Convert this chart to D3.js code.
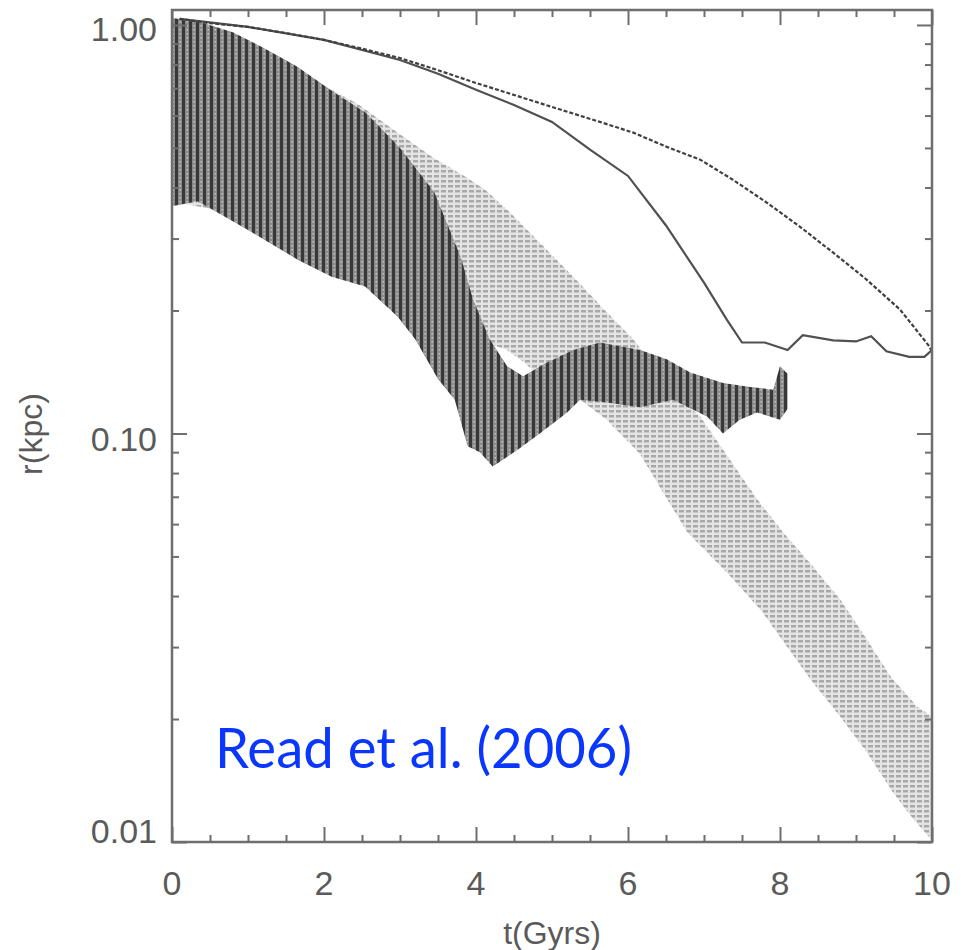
<!DOCTYPE html>
<html>
<head>
<meta charset="utf-8">
<script src="https://cdnjs.cloudflare.com/ajax/libs/d3/7.8.5/d3.min.js"></script>
<style>
body { margin: 0; background: #fff; }
svg { display: block; }
</style>
</head>
<body>
<svg id="chart" width="967" height="950"></svg>
<script>
// [t (Gyrs), r (kpc)]
var curveA = [[0.1,1.035],[0.5,1.01],[1,0.989],[1.5,0.955],[2,0.919],[2.5,0.875],[3,0.83],[3.5,0.775],[4,0.721],[4.5,0.674],[5,0.63],[5.63,0.579],[6.07,0.545],[6.51,0.503],[6.95,0.468],[7.38,0.418],[7.83,0.367],[8.26,0.321],[8.7,0.277],[9.14,0.238],[9.58,0.201],[9.97,0.163],[10,0.158]];
var curveB = [[0.1,1.035],[1,0.989],[2,0.919],[3,0.821],[3.5,0.76],[4,0.694],[4.5,0.637],[5,0.579],[5.5,0.495],[6,0.427],[6.5,0.323],[7,0.234],[7.3,0.19],[7.5,0.167],[7.8,0.167],[8.1,0.16],[8.3,0.174],[8.7,0.169],[9.0,0.168],[9.2,0.173],[9.4,0.159],[9.7,0.154],[9.9,0.154],[10,0.16]];

var darkUpper = [[0,1.04],[0.35,1.02],[0.8,0.96],[1.2,0.88],[1.65,0.79],[2.1,0.69],[2.55,0.61],[3.0,0.50],[3.45,0.39],[3.8,0.27],[3.96,0.213],[4.18,0.17],[4.41,0.146],[4.62,0.138],[4.93,0.149],[5.28,0.16],[5.63,0.167],[6.16,0.16],[6.51,0.152],[6.82,0.141],[7.25,0.133],[7.61,0.13],[7.91,0.128],[8.0,0.146],[8.1,0.14]];
var darkLower = [[0,0.36],[0.34,0.37],[1.0,0.315],[1.66,0.266],[2.1,0.242],[2.54,0.229],[2.97,0.193],[3.2,0.17],[3.5,0.136],[3.72,0.121],[3.89,0.093],[4.05,0.09],[4.22,0.083],[4.54,0.091],[4.84,0.10],[5.2,0.1125],[5.37,0.121],[5.72,0.119],[6.16,0.116],[6.59,0.121],[7.04,0.11],[7.25,0.10],[7.47,0.108],[7.7,0.1125],[8.0,0.108],[8.1,0.115]];

var lightUpper = [[0,1.03],[0.5,0.99],[1.0,0.92],[1.5,0.82],[2.0,0.71],[2.45,0.64],[2.97,0.545],[3.42,0.476],[3.86,0.425],[4.12,0.395],[4.41,0.353],[4.84,0.293],[5.28,0.242],[5.72,0.198],[6.07,0.17],[6.59,0.126],[6.95,0.11],[7.25,0.0914],[7.7,0.069],[8.04,0.0573],[8.43,0.0473],[8.79,0.0393],[9.14,0.0314],[9.45,0.0255],[9.8,0.0215],[10,0.0203]];
var lightLower = [[0,0.37],[1,0.34],[2,0.30],[3,0.23],[4,0.17],[4.41,0.16],[4.62,0.15],[4.9,0.135],[5.37,0.121],[5.72,0.108],[6.16,0.089],[6.38,0.076],[6.78,0.0573],[7.3,0.0457],[7.74,0.0371],[8.09,0.0301],[8.43,0.0246],[8.79,0.0203],[9.14,0.0166],[9.49,0.0132],[9.75,0.0114],[10,0.0101]];

var xTicks = [0,2,4,6,8,10];
var xMinor = [0.5,1,1.5,2.5,3,3.5,4.5,5,5.5,6.5,7,7.5,8.5,9,9.5];
var yTicks = [0.01,0.1,1];
var yTickLabels = ["0.01","0.10","1.00"];
var yMinor = [0.02,0.03,0.04,0.05,0.06,0.07,0.08,0.09,0.2,0.3,0.4,0.5,0.6,0.7,0.8,0.9];

var pL = 172, pR = 932, pT = 10, pB = 842;
var axisColor = "#6e6e6e";
var labelFont = "'Liberation Sans', Arial, sans-serif";

var svg = d3.select("#chart");

var x = d3.scaleLinear().domain([0,10]).range([pL,pR]);
var y = d3.scaleLog().domain([0.01,1.088]).range([pB,pT]);

var defs = svg.append("defs");

defs.append("clipPath").attr("id","plotClip")
	.append("rect")
	.attr("x",pL).attr("y",pT)
	.attr("width",pR-pL).attr("height",pB-pT);

var lightPat = defs.append("pattern")
	.attr("id","lightDots")
	.attr("patternUnits","userSpaceOnUse")
	.attr("width",7).attr("height",5);
lightPat.append("rect").attr("width",7).attr("height",5).attr("fill","#e4e4e4");
lightPat.append("rect").attr("x",0).attr("y",0).attr("width",5).attr("height",2.5).attr("fill","#a8a8a8");

var darkPat = defs.append("pattern")
	.attr("id","darkStripes")
	.attr("patternUnits","userSpaceOnUse")
	.attr("width",7).attr("height",4);
darkPat.append("rect").attr("width",7).attr("height",4).attr("fill","#8a8a8a");
darkPat.append("rect").attr("x",0).attr("width",3).attr("height",4).attr("fill","#383838");
darkPat.append("rect").attr("x",4.5).attr("y",1).attr("width",1.5).attr("height",1.5).attr("fill","#c4c4c4");

var line = d3.line()
	.x(function(d){ return x(d[0]); })
	.y(function(d){ return y(d[1]); });

function band(upper, lower){
	return line(upper.concat(lower.slice().reverse())) + "Z";
}

var plot = svg.append("g").attr("clip-path","url(#plotClip)");

plot.append("path")
	.attr("d", band(lightUpper, lightLower))
	.attr("fill","url(#lightDots)");

plot.append("path")
	.attr("d", band(darkUpper, darkLower))
	.attr("fill","url(#darkStripes)");

plot.append("path")
	.attr("d", line(curveB))
	.attr("fill","none")
	.attr("stroke","#505050")
	.attr("stroke-width",2.2);

plot.append("path")
	.attr("d", line(curveA))
	.attr("fill","none")
	.attr("stroke","#404040")
	.attr("stroke-width",2.2)
	.attr("stroke-dasharray","4,2");

// ticks on all four sides
function ticks(axis, pos, vals, size){
	var g = svg.append("g")
		.attr("transform", pos)
		.call(axis.tickValues(vals).tickSize(-size).tickFormat(""));
	g.select(".domain").remove();
	g.selectAll("line").attr("stroke",axisColor).attr("stroke-width",2);
	return g;
}

ticks(d3.axisBottom(x), "translate(0,"+pB+")", xTicks, 15);
ticks(d3.axisBottom(x), "translate(0,"+pB+")", xMinor, 7);
ticks(d3.axisTop(x), "translate(0,"+pT+")", xTicks, 15);
ticks(d3.axisTop(x), "translate(0,"+pT+")", xMinor, 7);
ticks(d3.axisLeft(y), "translate("+pL+",0)", yTicks, 15);
ticks(d3.axisLeft(y), "translate("+pL+",0)", yMinor, 7);
ticks(d3.axisRight(y), "translate("+pR+",0)", yTicks, 15);
ticks(d3.axisRight(y), "translate("+pR+",0)", yMinor, 7);

svg.append("rect")
	.attr("x",pL).attr("y",pT)
	.attr("width",pR-pL).attr("height",pB-pT)
	.attr("fill","none")
	.attr("stroke",axisColor)
	.attr("stroke-width",2.5);

// tick labels
svg.append("g")
	.selectAll("text")
	.data(xTicks)
	.enter().append("text")
		.attr("x", function(d){ return x(d); })
		.attr("y", pB+53)
		.attr("text-anchor","middle")
		.attr("font-family",labelFont)
		.attr("font-size",34)
		.attr("fill","#5a5a5a")
		.text(function(d){ return d; });

var yOff = [-11, 6, 4];
svg.append("g")
	.selectAll("text")
	.data(yTicks)
	.enter().append("text")
		.attr("x", pL-15)
		.attr("y", function(d,i){ return y(d)+yOff[i]; })
		.attr("dy","0.35em")
		.attr("text-anchor","end")
		.attr("font-family",labelFont)
		.attr("font-size",34)
		.attr("fill","#5a5a5a")
		.text(function(d,i){ return yTickLabels[i]; });

svg.append("text")
	.attr("x", (pL+pR)/2)
	.attr("y", 944)
	.attr("text-anchor","middle")
	.attr("font-family",labelFont)
	.attr("font-size",32)
	.attr("fill","#5a5a5a")
	.text("t(Gyrs)");

svg.append("text")
	.attr("transform","translate(42,"+((pT+pB)/2+8)+") rotate(-90)")
	.attr("text-anchor","middle")
	.attr("font-family",labelFont)
	.attr("font-size",32)
	.attr("fill","#5a5a5a")
	.text("r(kpc)");

svg.append("text")
	.attr("x",215)
	.attr("y",768)
	.attr("font-family","Lato, 'Open Sans', sans-serif")
	.attr("font-size",56)
	.attr("fill","#0a37ff")
	.attr("textLength",417)
	.attr("lengthAdjust","spacingAndGlyphs")
	.text("Read et al. (2006)");
</script>
</body>
</html>
